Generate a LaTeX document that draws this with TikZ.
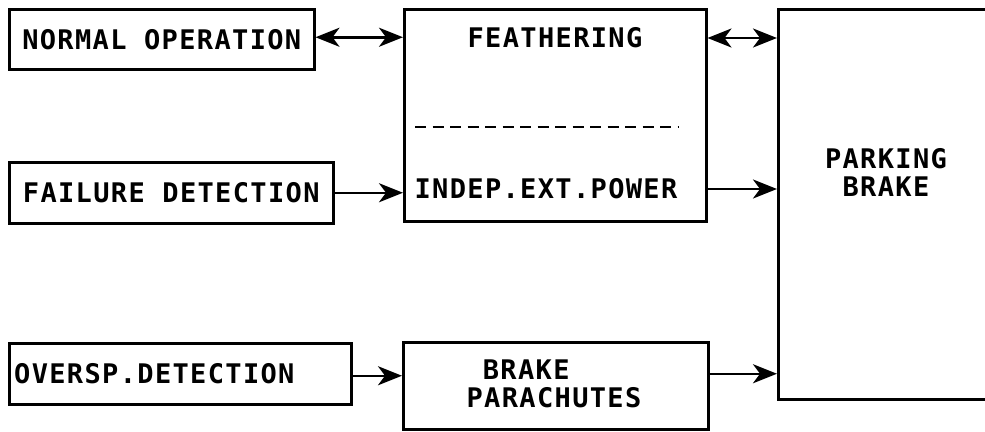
\documentclass[tikz,border=0pt]{standalone}
\usepackage{fontspec}
\newfontfamily\plotfont[LetterSpace=5]{DejaVu Sans Mono Bold}
\usetikzlibrary{arrows.meta}
\begin{document}
\begin{tikzpicture}[x=1pt,y=-1pt,
  box/.style={draw, line width=2.5pt, inner sep=0pt, anchor=north west},
  txt/.style={font=\plotfont\fontsize{27}{28}\selectfont, inner sep=0pt},
  tip/.tip={Stealth[length=24pt,width=19pt,inset=7pt]},
  conn/.style={line width=2.5pt, -tip},
  dconn/.style={line width=2.5pt, tip-tip}
]
\useasboundingbox[fill=white] (0,0) rectangle (985,431);
% boxes
\node[box, minimum width=305pt, minimum height=60pt] (no) at (8,8) {};
\node[txt] (notx) at (no.center) {NORMAL OPERATION};
\node[box, minimum width=324pt, minimum height=61pt] (fd) at (8,161) {};
\node[txt] (fdtx) at (fd.center) {FAILURE DETECTION};
\node[box, minimum width=342pt, minimum height=61pt] (os) at (8,342) {};
\node[txt, anchor=west] (ostx) at ([xshift=6pt]os.west) {OVERSP.DETECTION};
\node[box, minimum width=302pt, minimum height=212pt] (fb) at (403,8) {};
\node[txt] (ft) at (555,38) {FEATHERING};
\node[txt] (ip) at (546,189) {INDEP.EXT.POWER};
\draw[line width=2.5pt, dash pattern=on 11pt off 6.5pt] (415,127) -- (679,127);
\node[box, minimum width=305pt, minimum height=87pt] (bp) at (402,341) {};
\node[txt, align=left] (bptx) at (554,384) {\phantom{P}BRAKE\\PARACHUTES};
\node[box, minimum width=216pt, minimum height=390pt] (pb) at (777,8) {};
\node[txt, align=center] (pbtx) at (886,172) {PARKING\\BRAKE};
% connectors
\draw[dconn] ([yshift=2pt]no.east) -- ([yshift=2pt]no.east -| fb.west);
\draw[conn] (fd.east) -- (fd.east -| fb.west);
\draw[dconn] (fb.east |- ft.center) -- (pb.west |- ft.center);
\draw[conn] (fb.east |- ip.center) -- (pb.west |- ip.center);
\draw[conn] ([yshift=-2pt]os.east) -- ([yshift=-2pt]os.east -| bp.west);
\draw[conn] (bp.east |- os.east) -- (pb.west |- os.east);
\end{tikzpicture}
\end{document}
